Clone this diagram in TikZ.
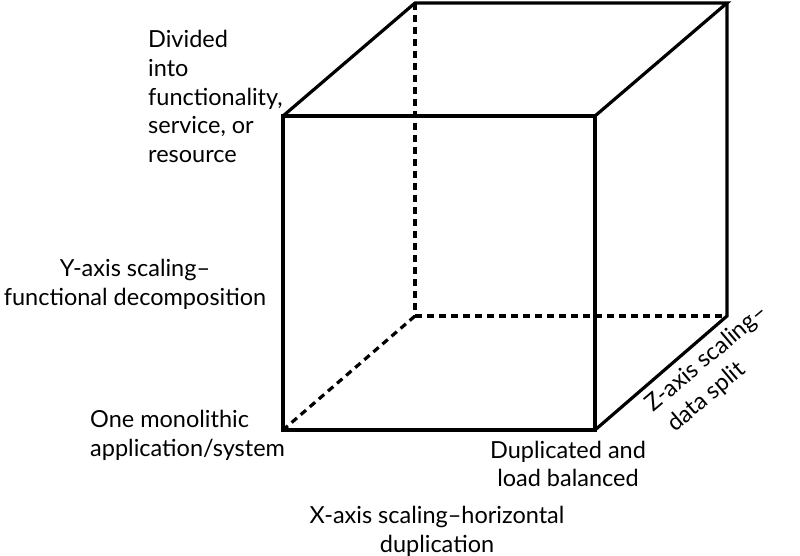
\documentclass[tikz,border=0pt]{standalone}
\usepackage{fontspec}
\setmainfont{Lato}
\begin{document}
\begin{tikzpicture}[x=1pt,y=-1pt,
  edge/.style={line width=3.2pt,line join=miter},
  hidden/.style={line width=3.2pt,dash pattern=on 7pt off 5pt},
  lbl/.style={font=\fontsize{23.5}{28.8}\selectfont,inner sep=0pt}]
\useasboundingbox (0,0) rectangle (800,556);
% front face corners
\coordinate (FTL) at (283,116);
\coordinate (FTR) at (595,116);
\coordinate (FBL) at (283,430);
\coordinate (FBR) at (595,430);
% back face corners
\coordinate (BTL) at (415,3);
\coordinate (BTR) at (727,3);
\coordinate (BBL) at (415,316);
\coordinate (BBR) at (727,316);
% hidden edges
\draw[hidden] (BTL) -- (BBL);
\draw[hidden] (BBL) -- (BBR);
\draw[hidden] (BBL) -- (FBL);
% visible edges
\draw[edge] (FTL) -- (FTR) -- (FBR) -- (FBL) -- cycle;
\draw[edge] (FTL) -- (BTL) -- (BTR) -- (FTR);
\draw[edge] (BTR) -- (BBR) -- (FBR);
% labels
\node[lbl,align=left,anchor=north west] (div) at (148,30) {Divided\\into\\functionality,\\service, or\\resource};
\node[lbl,align=center] (yax) at (135,284) {Y-axis scaling–\\functional decomposition};
\node[lbl,align=left,anchor=west] (mono) at (90,435) {One monolithic\\application/system};
\node[lbl,align=center] (dup) at (568,464) {Duplicated and\\load balanced};
\node[lbl,align=center] (xax) at (437,531) {X-axis scaling–horizontal\\duplication};
\node[lbl,rotate=40.3,anchor=base west] (zax1) at (653,413) {Z-axis scaling–};
\node[lbl,rotate=40.3,anchor=base west] (zax2) at (675,433) {data split};
\end{tikzpicture}
\end{document}
